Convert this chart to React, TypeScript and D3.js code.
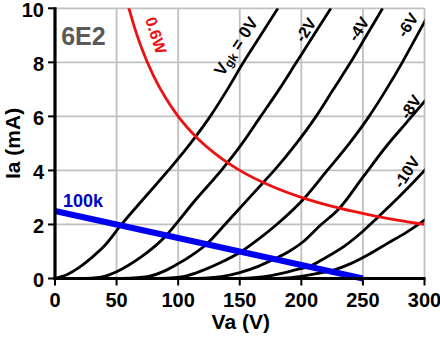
import React from 'react';
import * as d3 from 'd3';

// Axis ticks
const vaTicks = [0, 50, 100, 150, 200, 250, 300];
const iaTicks = [0, 2, 4, 6, 8, 10];

// Plate characteristics [Va (V), Ia (mA)]
const curveVg0: [number, number][] = [
  [0, 0], [10, 0.15], [20, 0.42], [30, 0.78], [40, 1.2], [54, 2.0], [70, 2.85],
  [92, 4.0], [110, 5.0], [126, 6.0], [140, 7.0], [153, 8.0], [167, 9.0], [181, 10],
];
const curveVg2: [number, number][] = [
  [25, 0], [40, 0.08], [50, 0.25], [60, 0.5], [70, 0.8], [80, 1.15], [90.5, 1.6],
  [97, 1.95], [113, 2.85], [135, 4.0], [152, 5.0], [167, 6.0], [182, 7.0],
  [196, 8.0], [210, 9.0], [224, 10],
];
const curveVg4: [number, number][] = [
  [55, 0], [75, 0.07], [90, 0.3], [100, 0.55], [110, 0.83], [123, 1.27], [138, 2.0],
  [156, 2.9], [170, 3.6], [178, 4.0], [196, 5.0], [212, 6.0], [226, 7.0],
  [240, 8.0], [253, 9.0], [266, 10],
];
const curveVg6: [number, number][] = [
  [85, 0], [105, 0.08], [120, 0.3], [135, 0.6], [151, 0.99], [165, 1.45], [180, 2.0],
  [203, 3.0], [221, 4.0], [239, 5.0], [255, 6.0], [269, 7.0], [282, 8.0],
  [294, 9.0], [306, 10],
];
const curveVg8: [number, number][] = [
  [115, 0], [135, 0.07], [150, 0.22], [165, 0.45], [178, 0.72], [190, 1.0],
  [202, 1.38], [215, 1.95], [231, 2.6], [250, 3.75], [270, 4.95], [285, 5.75],
  [300, 6.55], [310, 7.1],
];
const curveVg10: [number, number][] = [
  [150, 0], [170, 0.07], [185, 0.2], [196, 0.33], [206, 0.44], [220, 0.78],
  [235, 1.2], [250, 1.75], [262, 2.26], [280, 3.05], [300, 4.0], [310, 4.5],
];
const curveVg12: [number, number][] = [
  [180, 0], [200, 0.08], [212, 0.18], [223, 0.27], [240, 0.55], [255, 0.9],
  [270, 1.3], [285, 1.7], [300, 2.16], [310, 2.5],
];
const gridCurves = [curveVg0, curveVg2, curveVg4, curveVg6, curveVg8, curveVg10, curveVg12];

// 0.6 W anode dissipation limit
const powerCurve: [number, number][] = [
  [58, 10.3], [60, 10], [65, 9.23], [70, 8.57], [80, 7.5], [90, 6.67], [100, 6.0],
  [115, 5.22], [130, 4.62], [150, 4.0], [175, 3.43], [200, 3.0], [230, 2.61],
  [260, 2.31], [300, 2.0],
];

// 100k load line
const loadLine: [number, number][] = [[0, 2.5], [250, 0]];

// Curve labels (anchor in data units)
const curveLabels = [
  { text: '-2V', va: 203.6, ia: 9.2 },
  { text: '-4V', va: 246.6, ia: 9.23 },
  { text: '-6V', va: 286.3, ia: 9.38 },
  { text: '-8V', va: 288.7, ia: 6.35 },
  { text: '-10V', va: 285.5, ia: 3.94 },
];

const W = 440;
const H = 339;
const FONT = 'Arial, "Liberation Sans", Helvetica, sans-serif';

export default function App() {
  const x = d3.scaleLinear().domain([0, 300]).range([55, 424.5]);
  const y = d3.scaleLinear().domain([0, 10]).range([278.5, 8.3]);

  const line = d3
    .line<[number, number]>()
    .x((d) => x(d[0]))
    .y((d) => y(d[1]))
    .curve(d3.curveMonotoneX);
  const straight = d3
    .line<[number, number]>()
    .x((d) => x(d[0]))
    .y((d) => y(d[1]));

  const [x0, x1] = x.range();
  const [y0, y1] = y.range();
  const angle = -57;

  return (
    <svg
      width={W}
      height={H}
      style={{ position: 'absolute', left: 0, top: 0, background: '#fff' }}
      fontFamily={FONT}
      fontWeight="bold"
    >
      <defs>
        <clipPath id="plot">
          <rect x={x0} y={y1} width={x1 - x0} height={y0 - y1} />
        </clipPath>
      </defs>
      <rect width={W} height={H} fill="#fff" />

      {/* grid */}
      <g stroke="#c0c0c0" strokeWidth={1.8}>
        {vaTicks.filter((t) => t > 0).map((t) => (
          <line key={'gx' + t} x1={x(t)} x2={x(t)} y1={y0} y2={y1} />
        ))}
        {iaTicks.filter((t) => t > 0).map((t) => (
          <line key={'gy' + t} x1={x0} x2={x1} y1={y(t)} y2={y(t)} />
        ))}
      </g>

      <g clipPath="url(#plot)" fill="none">
        {gridCurves.map((c, i) => (
          <path key={'c' + i} d={line(c) || ''} stroke="#000" strokeWidth={2.8} />
        ))}
        <path d={line(powerCurve) || ''} stroke="#ee1111" strokeWidth={2.8} />
      </g>
      <path d={straight(loadLine) || ''} stroke="#0000f0" strokeWidth={6} fill="none" />

      {/* axes */}
      <g stroke="#000">
        <line x1={x0} x2={x0} y1={y1 - 1} y2={y0 + 1.5} strokeWidth={3.2} />
        <line x1={x0 - 1.5} x2={x1 + 1} y1={y0} y2={y0} strokeWidth={3.2} />
        {iaTicks.map((t) => (
          <line key={'ty' + t} x1={x0 - 7} x2={x0} y1={y(t)} y2={y(t)} strokeWidth={2} />
        ))}
        {vaTicks.map((t) => (
          <line key={'tx' + t} x1={x(t)} x2={x(t)} y1={y0} y2={y0 + 7} strokeWidth={2} />
        ))}
      </g>

      {/* tick labels */}
      <g fontSize={20} fill="#000">
        {iaTicks.map((t) => (
          <text key={'ly' + t} x={x0 - 11} y={y(t)} dy="0.42em" textAnchor="end">
            {t}
          </text>
        ))}
        {vaTicks.map((t) => (
          <text key={'lx' + t} x={x(t)} y={y0 + 28.5} textAnchor="middle">
            {t}
          </text>
        ))}
      </g>

      {/* axis titles */}
      <text x={(x0 + x1) / 2 + 1} y={329} textAnchor="middle" fontSize={21}>
        Va (V)
      </text>
      <text
        transform={`translate(20,${(y0 + y1) / 2}) rotate(-90)`}
        textAnchor="middle"
        fontSize={21}
      >
        Ia (mA)
      </text>

      {/* tube name */}
      <text x={x(5)} y={y(8.64)} fontSize={25} fill="#595959">
        6E2
      </text>

      {/* 100k label */}
      <text x={x(6.5)} y={y(2.65)} fontSize={18} fill="#0000c8">
        100k
      </text>

      {/* 0.6W label */}
      <text
        transform={`translate(${x(82)},${y(9.0)}) rotate(72)`}
        textAnchor="middle"
        dominantBaseline="central"
        fontSize={16}
        fill="#ee1111"
      >
        0.6W
      </text>

      {/* Vgk = 0V */}
      <text
        transform={`translate(${x(146.8)},${y(8.6)}) rotate(${angle})`}
        textAnchor="middle"
        dominantBaseline="central"
        fontSize={17}
        fill="#000"
      >
        <tspan>V</tspan>
        <tspan dy={4} fontSize={12}>gk</tspan>
        <tspan dy={-4}> = 0V</tspan>
      </text>

      {curveLabels.map((l) => (
        <text
          key={l.text}
          transform={`translate(${x(l.va)},${y(l.ia)}) rotate(${angle})`}
          textAnchor="middle"
          dominantBaseline="central"
          fontSize={16}
          fill="#000"
        >
          {l.text}
        </text>
      ))}
    </svg>
  );
}
